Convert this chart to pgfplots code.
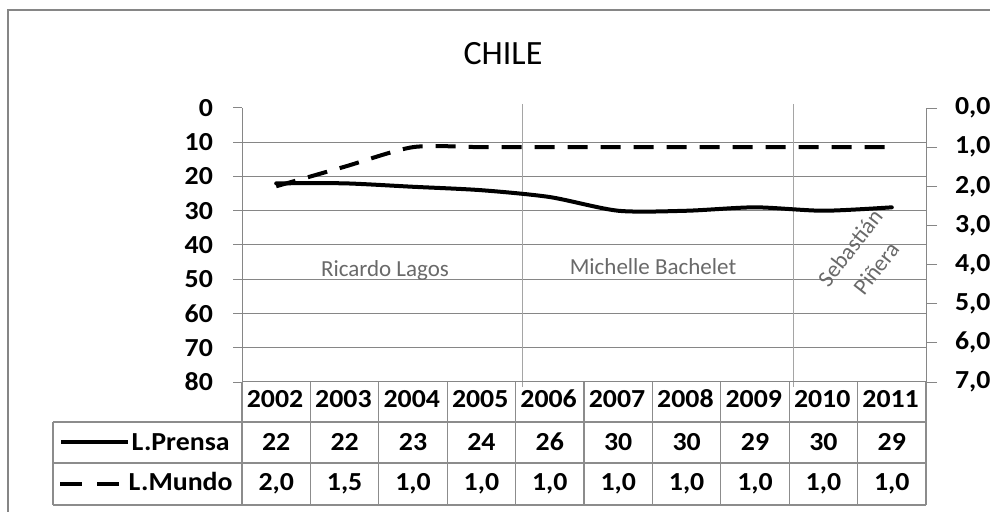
\documentclass[border=0pt]{standalone}
\usepackage{fontspec}
\setmainfont{Carlito}[Numbers=Lining]
\newfontfamily\tabfont[FakeStretch=1.07,Numbers=Lining]{Carlito}
\usepackage{pgfplots}
\pgfplotsset{compat=1.18}
\definecolor{axisgray}{RGB}{134,134,134}
\definecolor{gridgray}{RGB}{134,134,134}
\definecolor{tablegray}{RGB}{140,140,140}
\definecolor{namegray}{RGB}{105,105,105}
\definecolor{sepgray}{RGB}{165,165,165}
\newcommand{\tf}{\tabfont\fontsize{13}{15}\selectfont\bfseries}
\begin{document}
\begin{tikzpicture}
\useasboundingbox (0,0) rectangle (495pt,-256pt);
% outer frame (left and top edges visible)
\begin{scope}[x=0.5pt,y=-0.5pt]
  \draw[axisgray, line width=0.6pt] (8,512) -- (8,10) -- (990,10);
  \node[font=\fontsize{17}{20}\selectfont] at (503,54) {CHILE};
\end{scope}
% ---- left axis: L.Prensa ----
\begin{axis}[
  at={(121pt,-191pt)}, anchor=south west,
  scale only axis, width=342pt, height=137pt,
  xmin=-0.5, xmax=9.5, ymin=0, ymax=80, y dir=reverse,
  axis x line=none, axis y line*=left,
  axis line style={draw=axisgray, line width=0.5pt},
  xtick=\empty, ytick={0,10,...,80},
  tick align=outside, major tick length=4.5pt,
  tick style={draw=axisgray, line width=0.5pt},
  /pgf/number format/assume math mode=true,
  yticklabel style={font=\tf, xshift=-6.5pt},
  clip=false,
]
\draw[gridgray, line width=0.5pt] (axis cs:-0.5,10) -- (axis cs:9.5,10);
\draw[gridgray, line width=0.5pt] (axis cs:-0.5,20) -- (axis cs:9.5,20);
\draw[gridgray, line width=0.5pt] (axis cs:-0.5,30) -- (axis cs:9.5,30);
\draw[gridgray, line width=0.5pt] (axis cs:-0.5,40) -- (axis cs:9.5,40);
\draw[gridgray, line width=0.5pt] (axis cs:-0.5,50) -- (axis cs:9.5,50);
\draw[gridgray, line width=0.5pt] (axis cs:-0.5,60) -- (axis cs:9.5,60);
\draw[gridgray, line width=0.5pt] (axis cs:-0.5,70) -- (axis cs:9.5,70);
\draw[sepgray, line width=0.5pt] (axis cs:3.594,-1.2) -- (axis cs:3.594,81.5);
\draw[sepgray, line width=0.5pt] (axis cs:7.57,-1.2) -- (axis cs:7.57,81.5);
\addplot[black, line width=2pt, smooth, tension=0.45, line join=round, line cap=round]
  coordinates {(0,22)(1,22)(2,23)(3,24)(4,26)(5,30)(6,30)(7,29)(8,30)(9,29)};
\end{axis}
% ---- right axis: L.Mundo ----
\begin{axis}[
  at={(121pt,-191pt)}, anchor=south west,
  scale only axis, width=342pt, height=137pt,
  xmin=-0.5, xmax=9.5, ymin=0, ymax=7, y dir=reverse,
  axis x line=none, axis y line*=right,
  axis line style={draw=axisgray, line width=0.5pt},
  xtick=\empty, ytick={0,1,...,7},
  tick align=outside, major tick length=5.5pt,
  tick style={draw=axisgray, line width=0.5pt},
  /pgf/number format/assume math mode=true,
  yticklabel style={font=\tf, xshift=5.5pt,
    /pgf/number format/.cd, fixed, fixed zerofill, precision=1, use comma},
  clip=false,
]
\addplot[black, line width=2pt, smooth, tension=0.45, dash pattern=on 10pt off 6.5pt]
  coordinates {(0,2.0)(1,1.5)(2,1.0)(3,1.0)(4,1.0)(5,1.0)(6,1.0)(7,1.0)(8,1.0)(9,1.0)};
\end{axis}
% ---- data table and labels (pixel coordinates) ----
\begin{scope}[x=0.5pt,y=-0.5pt]
  \draw[axisgray, line width=0.5pt] (242,382) -- (926,382);
  \draw[tablegray, line width=0.6pt] (53,422) -- (926,422);
  \draw[tablegray, line width=0.6pt] (53,463) -- (926,463);
  \draw[tablegray, line width=0.6pt] (53,505) -- (926,505);
  \draw[tablegray, line width=0.6pt] (53,422) -- (53,505);
  \foreach \k in {0,...,10} {
    \draw[tablegray, line width=0.6pt] ({242+68.4*\k},382) -- ({242+68.4*\k},505);
  }
  \foreach \yr [count=\i from 0] in {2002,2003,2004,2005,2006,2007,2008,2009,2010,2011} {
    \node[font=\tf, anchor=base, inner sep=0pt] at ({275+68.4*\i},408) {\yr};
  }
  \foreach \v [count=\i from 0] in {22,22,23,24,26,30,30,29,30,29} {
    \node[font=\tf, anchor=base, inner sep=0pt] at ({276.2+68.4*\i},451) {\v};
  }
  \foreach \v [count=\i from 0] in {2{,}0,1{,}5,1{,}0,1{,}0,1{,}0,1{,}0,1{,}0,1{,}0,1{,}0,1{,}0} {
    \node[font=\tf, anchor=base, inner sep=0pt] at ({276.2+68.4*\i},491) {\v};
  }
  \draw[black, line width=2pt] (61,442) -- (128,442);
  \draw[black, line width=2pt, dash pattern=on 11pt off 7.5pt] (60,484) -- (119,484);
  \node[anchor=base east, font=\tf, inner sep=0pt] at (230,451) {L.Prensa};
  \node[anchor=base east, font=\tf, inner sep=0pt] at (233,491) {L.Mundo};
  % president names
  \node[namegray, font=\fontsize{11.5}{13}\selectfont] at (385,270) {Ricardo Lagos};
  \node[namegray, font=\fontsize{11.5}{13}\selectfont] at (653,267) {Michelle Bachelet};
  \node[namegray, font=\fontsize{11.5}{16.5}\selectfont, rotate=52, align=center] at (863,258) {Sebastián\\Piñera};
\end{scope}
\end{tikzpicture}
\end{document}
